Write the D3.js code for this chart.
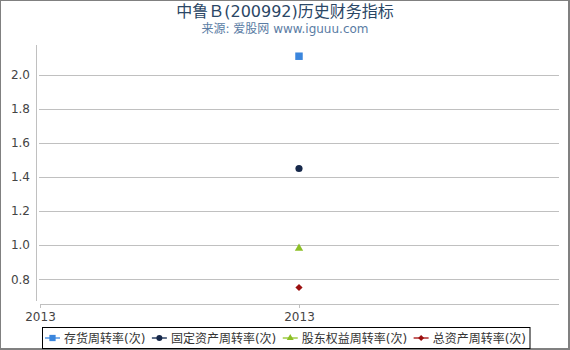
<!DOCTYPE html>
<html>
<head>
<meta charset="utf-8">
<script src="https://cdn.jsdelivr.net/npm/d3@7"></script>
<style>
  body { margin: 0; background: #fff; }
  svg { display: block; font-family: "DejaVu Sans", "Noto Sans CJK SC", sans-serif; }
</style>
</head>
<body>
<div id="chart"></div>
<script>
const titleText = '中鲁Ｂ(200992)历史财务指标';
const subtitleText = '来源: 爱股网 www.iguuu.com';
const categories = ['2013'];
const xTickLabels = ['2013', '2013'];
const seriesNames = ['存货周转率(次)', '固定资产周转率(次)', '股东权益周转率(次)', '总资产周转率(次)'];
const seriesValues = [[2.11], [1.45], [0.98], [0.75]];
const yTicks = [0.8, 1.0, 1.2, 1.4, 1.6, 1.8, 2.0];

const colors = ['#3b86dd', '#16284a', '#8cbf26', '#9b1010'];
const lineColors = ['#7fb0ea', '#60708a', '#b6d872', '#c46060'];
const symbols = [d3.symbolSquare, d3.symbolCircle, d3.symbolTriangle, d3.symbolSquare];
const symSizes = [56, 40, 30, 26];
const symRotate = [0, 0, 0, 45];

const width = 570, height = 350;

const svg = d3.select('#chart')
  .append('svg')
  .attr('width', width)
  .attr('height', height);

// frame with shadow edges
svg.append('rect').attr('x', 0).attr('y', 0).attr('width', width).attr('height', height).attr('fill', '#808080');
svg.append('rect').attr('x', 1).attr('y', 1).attr('width', width - 3).attr('height', height - 3).attr('fill', '#fff');

svg.append('text')
  .attr('x', 285).attr('y', 17)
  .attr('text-anchor', 'middle')
  .attr('font-size', 16)
  .attr('fill', '#2b4766')
  .text(titleText);

svg.append('text')
  .attr('x', 285).attr('y', 33)
  .attr('text-anchor', 'middle')
  .attr('font-size', 12)
  .attr('fill', '#5a7ca4')
  .text(subtitleText);

const yScale = d3.scaleLinear()
  .domain([0.653, 2.176])
  .range([304, 45]);

const xScale = d3.scaleLinear()
  .domain([0, 2])
  .range([40, 558]);

// grid
svg.append('g')
  .selectAll('line')
  .data(yTicks)
  .enter()
  .append('line')
  .attr('x1', 39).attr('x2', 559)
  .attr('y1', (d) => Math.round(yScale(d)) + 0.5)
  .attr('y2', (d) => Math.round(yScale(d)) + 0.5)
  .attr('stroke', '#c0c0c0');

// y axis
svg.append('line')
  .attr('x1', 36.5).attr('x2', 36.5)
  .attr('y1', 45).attr('y2', 301)
  .attr('stroke', '#c0c0c0');

svg.append('g')
  .selectAll('text')
  .data(yTicks)
  .enter()
  .append('text')
  .attr('x', 30)
  .attr('y', (d) => yScale(d) + 4.5)
  .attr('text-anchor', 'end')
  .attr('font-size', 12)
  .attr('fill', '#444')
  .text((d) => d.toFixed(1));

// x axis
svg.append('line')
  .attr('x1', 40).attr('x2', 559)
  .attr('y1', 304.5).attr('y2', 304.5)
  .attr('stroke', '#c0c0c0');

const xt = svg.append('g')
  .selectAll('g')
  .data(xTickLabels)
  .enter()
  .append('g')
  .attr('transform', (d, i) => `translate(${Math.round(xScale(i)) + 0.5}, 304)`);

xt.append('line').attr('y1', 0).attr('y2', 4).attr('stroke', '#c0c0c0');
xt.append('text')
  .attr('y', 17)
  .attr('text-anchor', 'middle')
  .attr('font-size', 12)
  .attr('fill', '#444')
  .text((d) => d);

// points
seriesValues.forEach((vals, s) => {
  svg.append('g')
    .selectAll('path')
    .data(vals)
    .enter()
    .append('path')
    .attr('d', d3.symbol().type(symbols[s]).size(symSizes[s]))
    .attr('transform', (d, i) => `translate(${xScale(categories.length)}, ${yScale(d)}) rotate(${symRotate[s]})`)
    .attr('fill', colors[s]);
});

// legend
const legend = svg.append('g');
const box = legend.append('rect')
  .attr('x', 42.5).attr('y', 327.5)
  .attr('height', 21)
  .attr('fill', '#fff')
  .attr('stroke', '#000');

let lx = 45;
seriesNames.forEach((name, s) => {
  const g = legend.append('g').attr('transform', `translate(${lx}, 338)`);
  g.append('line').attr('x1', 0).attr('x2', 15).attr('stroke', lineColors[s]).attr('stroke-width', 2);
  g.append('path')
    .attr('d', d3.symbol().type(symbols[s]).size(symSizes[s] * 0.7))
    .attr('transform', `translate(7.5, 0) rotate(${symRotate[s]})`)
    .attr('fill', colors[s]);
  const t = g.append('text')
    .attr('x', 19).attr('y', 4.5)
    .attr('font-size', 12)
    .attr('fill', '#333')
    .text(name);
  lx += 19 + t.node().getComputedTextLength() + 6.5;
});
box.attr('width', lx - 42 - 3);
</script>
</body>
</html>
